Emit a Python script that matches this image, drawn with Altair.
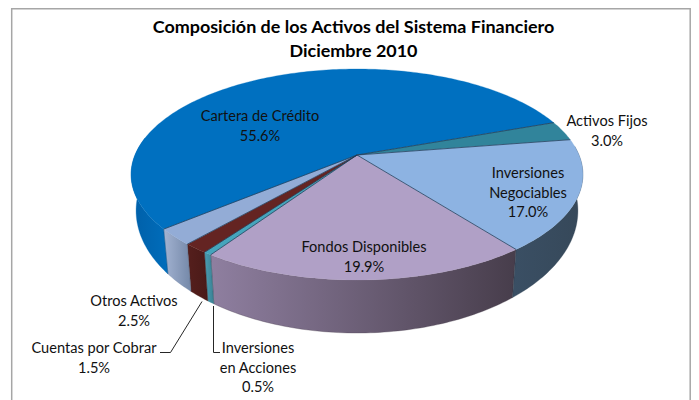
import math
import altair as alt
import pandas as pd

# ---- chart values, clockwise from the Negociables/Fondos edge
names = ["Fondos Disponibles", "Inversiones en Acciones", "Cuentas por Cobrar", "Otros Activos",
         "Cartera de Crédito", "Activos Fijos", "Inversiones Negociables"]
shares = [19.9, 0.5, 1.5, 2.5, 55.6, 3.0, 17.0]
label_texts = ["Fondos Disponibles\n19.9%", "Inversiones\nen Acciones\n0.5%", "Cuentas por Cobrar\n1.5%",
               "Otros Activos\n2.5%", "Cartera de Crédito\n55.6%", "Activos Fijos\n3.0%",
               "Inversiones\nNegociables\n17.0%"]
title_lines = ["Composición de los Activos del Sistema Financiero", "Diciembre 2010"]

# ---- styling
top_colors = ["#B0A0C6", "#45A5BC", "#642422", "#93ACD6", "#0070C0", "#31849B", "#8DB3E2"]
wall_colors = [("#8F7FA0", "#473D4B"), ("#4A9DB2", "#3A8194"), ("#551F1D", "#4A1A18"), ("#A3B3D2", "#7488A8"),
               ("#005FA8", "#006DBB"), ("#31849B", "#31849B"), ("#3A4F64", "#364859")]
label_px = [(364, 248.3), (258, 349.3), (94, 349.3), (134, 302.3), (260, 117.3), (607, 122.3), (528, 174.3)]

W, H = 683, 392
OX, OY = 8, 8                 # page margin
CX, CY, A, B, K = 357.0, 155.0, 222.0, 101.9, 0.185
START = 142.3
SX, SY, DZ = 0.978, 1.16, 33.0


def top(deg):
    t = math.radians(deg)
    u, v = math.sin(t), -math.cos(t)
    w = 1 / (1 - K * v)
    return A * u * w, B * v * w


def top_pt(deg):
    dx, dy = top(deg)
    return CX + dx - OX, CY + dy - OY


def bot_pt(deg):
    dx, dy = top(deg)
    return CX + SX * dx - OX, CY + DZ + SY * dy - OY


def arc(a0, a1, fn):
    n = max(2, int(abs(a1 - a0) / 1.0) + 1)
    return [fn(a0 + (a1 - a0) * i / n) for i in range(n + 1)]


edges = [START]
for s in shares:
    edges.append(edges[-1] + s * 3.6)

xs = alt.X("x:Q", scale=alt.Scale(domain=[0, W], range=[0, W]), axis=None)
ys = alt.Y("y:Q", scale=alt.Scale(domain=[0, H], range=[0, H]), axis=None)


def poly(points, **mark):
    df = pd.DataFrame({"x": [p[0] for p in points], "y": [p[1] for p in points], "i": range(len(points))})
    return alt.Chart(df).mark_line(interpolate="linear-closed", **mark).encode(x=xs, y=ys, order="i:Q")


def grad(c0, c1):
    return alt.Gradient(gradient="linear", x1=0, x2=1, y1=0, y2=0,
                        stops=[alt.GradientStop(offset=0, color=c0), alt.GradientStop(offset=1, color=c1)])


layers = []
# border
border = pd.DataFrame({"x": [3.7, 3.7, W - 0.8, W - 0.8], "y": [H + 5, 0.7, 0.7, H + 5], "i": range(4)})
layers.append(alt.Chart(border).mark_line(color="#A6A6A6", strokeWidth=1.5, clip=True).encode(x=xs, y=ys, order="i:Q"))

# walls (only the front half is visible)
FRONT = (85.0, 280.0)
for k in range(len(shares)):
    a0, a1 = edges[k], edges[k + 1]
    for shift in (0, 360, -360):
        b0, b1 = max(a0 + shift, FRONT[0]), min(a1 + shift, FRONT[1])
        if b1 > b0:
            pts = arc(b0, b1, top_pt) + arc(b1, b0, bot_pt)
            layers.append(poly(pts, fill=grad(*wall_colors[k]), stroke=wall_colors[k][1], strokeWidth=0.3))

# top faces
for k in range(len(shares)):
    pts = [(CX - OX, CY - OY)] + arc(edges[k], edges[k + 1], top_pt)
    layers.append(poly(pts, fill=top_colors[k], stroke=top_colors[k], strokeWidth=0.3))

# slice edges on the top face
for k in range(len(shares)):
    p = top_pt(edges[k])
    df = pd.DataFrame({"x": [CX - OX, p[0]], "y": [CY - OY, p[1]], "i": [0, 1]})
    layers.append(alt.Chart(df).mark_line(color="#1F3A55", strokeWidth=1, opacity=0.75).encode(x=xs, y=ys, order="i:Q"))

# wall edges
for k in [0, 1, 2, 3, 4]:
    p, q = top_pt(edges[k]), bot_pt(edges[k])
    df = pd.DataFrame({"x": [p[0], q[0]], "y": [p[1], q[1]], "i": [0, 1]})
    layers.append(alt.Chart(df).mark_line(color="#2A2A33", strokeWidth=0.6, opacity=0.35).encode(x=xs, y=ys, order="i:Q"))

# leader lines
for path in ([(160, 352.5), (170.5, 352.5), (202, 301.5)], [(220, 352.5), (213.5, 352.5), (213.5, 306)]):
    df = pd.DataFrame({"x": [p[0] - OX for p in path], "y": [p[1] - OY for p in path], "i": range(3)})
    layers.append(alt.Chart(df).mark_line(color="#262626", strokeWidth=1).encode(x=xs, y=ys, order="i:Q"))

# labels
FONT = "Lato"
for text, (px, py) in zip(label_texts, label_px):
    layers.append(alt.Chart(pd.DataFrame({"t": [text]})).mark_text(
        font=FONT, fontSize=14.6, color="#111111", align="center", baseline="middle",
        lineBreak="\n", lineHeight=19.3).encode(x=alt.value(px - OX), y=alt.value(py - OY), text="t:N"))

# title
for line, py in zip(title_lines, (28, 52)):
    layers.append(alt.Chart(pd.DataFrame({"t": [line]})).mark_text(
        font=FONT, fontSize=17.95, fontWeight="bold", color="#000000", align="center", baseline="middle"
    ).encode(x=alt.value(353.5 - OX), y=alt.value(py - OY), text="t:N"))

chart = alt.layer(*layers).properties(
    width=W, height=H, padding=0, autosize=alt.AutoSizeParams(type="none"), background="white"
).configure_view(stroke=None)

chart.save("out.html", embed_options={"renderer": "svg", "actions": False})
